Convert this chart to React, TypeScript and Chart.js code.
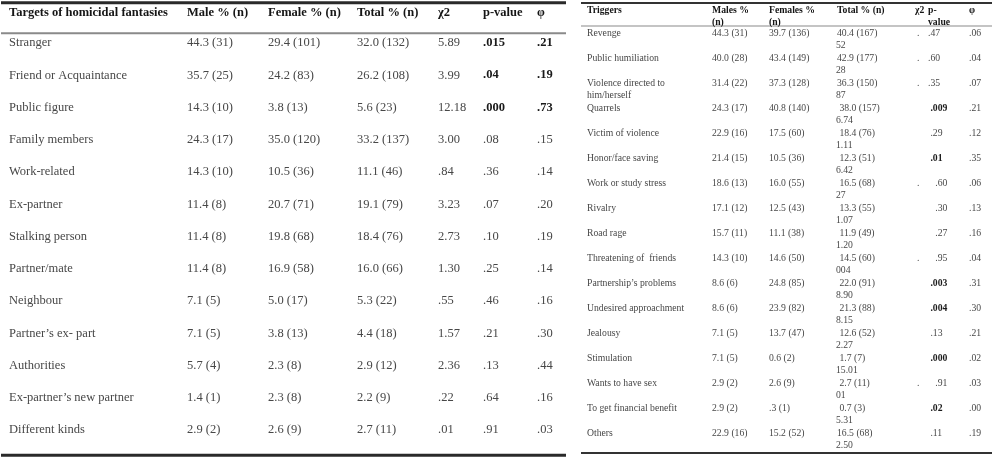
import React, { useEffect, useRef } from "react";
import { Chart, registerables } from "chart.js";

Chart.register(...registerables);

// ---------- Left table data ----------
const leftHeaders = ["Targets of homicidal fantasies", "Male % (n)", "Female % (n)", "Total % (n)", "χ2", "p-value", "φ"];
const targets = [
  "Stranger", "Friend or Acquaintance", "Public figure", "Family members", "Work-related", "Ex-partner",
  "Stalking person", "Partner/mate", "Neighbour", "Partner\u2019s ex- part", "Authorities",
  "Ex-partner\u2019s new partner", "Different kinds",
];
const leftMale = ["44.3 (31)", "35.7 (25)", "14.3 (10)", "24.3 (17)", "14.3 (10)", "11.4 (8)", "11.4 (8)", "11.4 (8)", "7.1 (5)", "7.1 (5)", "5.7 (4)", "1.4 (1)", "2.9 (2)"];
const leftFemale = ["29.4 (101)", "24.2 (83)", "3.8 (13)", "35.0 (120)", "10.5 (36)", "20.7 (71)", "19.8 (68)", "16.9 (58)", "5.0 (17)", "3.8 (13)", "2.3 (8)", "2.3 (8)", "2.6 (9)"];
const leftTotal = ["32.0 (132)", "26.2 (108)", "5.6 (23)", "33.2 (137)", "11.1 (46)", "19.1 (79)", "18.4 (76)", "16.0 (66)", "5.3 (22)", "4.4 (18)", "2.9 (12)", "2.2 (9)", "2.7 (11)"];
const leftChi = ["5.89", "3.99", "12.18", "3.00", ".84", "3.23", "2.73", "1.30", ".55", "1.57", "2.36", ".22", ".01"];
const leftP = [".015", ".04", ".000", ".08", ".36", ".07", ".10", ".25", ".46", ".21", ".13", ".64", ".91"];
const leftPhi = [".21", ".19", ".73", ".15", ".14", ".20", ".19", ".14", ".16", ".30", ".44", ".16", ".03"];
const leftBold = [true, true, true, false, false, false, false, false, false, false, false, false, false];

// ---------- Right table data ----------
const rightHeaders1 = ["Triggers", "Males %", "Females %", "Total % (n)", "χ2", "p-", "φ"];
const rightHeaders2 = ["", "(n)", "(n)", "", "", "value", ""];
const triggers = [
  "Revenge", "Public humiliation", "Violence directed to\nhim/herself", "Quarrels", "Victim of violence",
  "Honor/face saving", "Work or study stress", "Rivalry", "Road rage", "Threatening of  friends",
  "Partnership\u2019s problems", "Undesired approachment", "Jealousy", "Stimulation", "Wants to have sex",
  "To get financial benefit", "Others",
];
const rightMales = ["44.3 (31)", "40.0 (28)", "31.4 (22)", "24.3 (17)", "22.9 (16)", "21.4 (15)", "18.6 (13)", "17.1 (12)", "15.7 (11)", "14.3 (10)", "8.6 (6)", "8.6 (6)", "7.1 (5)", "7.1 (5)", "2.9 (2)", "2.9 (2)", "22.9 (16)"];
const rightFemales = ["39.7 (136)", "43.4 (149)", "37.3 (128)", "40.8 (140)", "17.5 (60)", "10.5 (36)", "16.0 (55)", "12.5 (43)", "11.1 (38)", "14.6 (50)", "24.8 (85)", "23.9 (82)", "13.7 (47)", "0.6 (2)", "2.6 (9)", ".3 (1)", "15.2 (52)"];
const rightTotal = ["40.4 (167)", "42.9 (177)", "36.3 (150)", " 38.0 (157)", " 18.4 (76)", " 12.3 (51)", " 16.5 (68)", " 13.3 (55)", " 11.9 (49)", " 14.5 (60)", " 22.0 (91)", " 21.3 (88)", " 12.6 (52)", " 1.7 (7)", " 2.7 (11)", " 0.7 (3)", "16.5 (68)"];
const rightChiWrapped = ["52", "28", "87", "6.74", "1.11", "6.42", "27", "1.07", "1.20", "004", "8.90", "8.15", "2.27", "15.01", "01", "5.31", "2.50"];
const rightChiDot = [".", ".", ".", "", "", "", ".", "", "", ".", "", "", "", "", ".", "", ""];
const rightP = [".47", ".60", ".35", " .009", " .29", " .01", "   .60", "   .30", "   .27", "   .95", " .003", " .004", " .13", " .000", "   .91", " .02", " .11"];
const rightPhi = [".06", ".04", ".07", ".21", ".12", ".35", ".06", ".13", ".16", ".04", ".31", ".30", ".21", ".02", ".03", ".00", ".19"];
const rightBold = [false, false, false, true, false, true, false, false, false, false, true, true, false, true, false, true, false];

// ---------- Layout (positions in x-scale units) ----------
const leftCols = [9, 187, 268, 357, 438, 483, 537];
const rightCols = [587, 712, 769, 837, 915, 928, 969];
const LEFT_FONT = 12.5;
const RIGHT_FONT = 9.7;
const SERIF = '"Liberation Serif", "DejaVu Serif", serif';
const BODY = "#474747";
const HEAD = "#151515";

const tablePlugin = {
  id: "tableDraw",
  afterDatasetsDraw(chart: any) {
    const ctx = chart.ctx as CanvasRenderingContext2D;
    const x = chart.scales.x;
    const yL = chart.scales.yL;
    const yR = chart.scales.yR;
    ctx.save();
    ctx.textBaseline = "middle";
    ctx.textAlign = "left";

    const text = (s: string, px: number, py: number, size: number, bold: boolean, color: string) => {
      ctx.font = `${bold ? "bold " : ""}${size}px ${SERIF}`;
      ctx.fillStyle = color;
      ctx.fillText(s, px, py);
    };
    const hline = (x0: number, x1: number, py: number, w: number, color: string) => {
      ctx.beginPath();
      ctx.strokeStyle = color;
      ctx.lineWidth = w;
      ctx.moveTo(x.getPixelForValue(x0), py);
      ctx.lineTo(x.getPixelForValue(x1), py);
      ctx.stroke();
    };

    // Left table rules
    hline(1, 566, yL.getPixelForValue(-1.25), 3, "#2a2a2a");
    hline(1, 566, yL.getPixelForValue(-0.3), 2, "#8a8a8a");
    hline(1, 566, yL.getPixelForValue(12.78), 3, "#2a2a2a");

    // Left header
    leftHeaders.forEach((h, c) => {
      text(h, x.getPixelForValue(leftCols[c]), yL.getPixelForValue(-0.93), LEFT_FONT, true, HEAD);
    });
    // Left body
    targets.forEach((t, i) => {
      const py = yL.getPixelForValue(i);
      const cells = [t, leftMale[i], leftFemale[i], leftTotal[i], leftChi[i], leftP[i], leftPhi[i]];
      cells.forEach((s, c) => {
        const bold = c >= 5 && leftBold[i];
        text(s, x.getPixelForValue(leftCols[c]), py, LEFT_FONT, bold, bold ? "#1a1a1a" : BODY);
      });
    });

    // Right table rules
    hline(581, 992, yR.getPixelForValue(-1.2), 2, "#333333");
    hline(581, 992, yR.getPixelForValue(-0.28), 1.2, "#8a8a8a");
    hline(581, 992, yR.getPixelForValue(16.8), 2, "#333333");

    // Right header
    rightHeaders1.forEach((h, c) => {
      text(h, x.getPixelForValue(rightCols[c]), yR.getPixelForValue(-0.92), RIGHT_FONT, true, HEAD);
      if (rightHeaders2[c]) {
        text(rightHeaders2[c], x.getPixelForValue(rightCols[c]), yR.getPixelForValue(-0.44), RIGHT_FONT, true, HEAD);
      }
    });
    // Right body
    triggers.forEach((t, i) => {
      const py = yR.getPixelForValue(i);
      const py2 = yR.getPixelForValue(i + 0.48);
      const lines = t.split("\n");
      text(lines[0], x.getPixelForValue(rightCols[0]), py, RIGHT_FONT, false, BODY);
      if (lines[1]) text(lines[1], x.getPixelForValue(rightCols[0]), py2, RIGHT_FONT, false, BODY);
      text(rightMales[i], x.getPixelForValue(rightCols[1]), py, RIGHT_FONT, false, BODY);
      text(rightFemales[i], x.getPixelForValue(rightCols[2]), py, RIGHT_FONT, false, BODY);
      text(rightTotal[i], x.getPixelForValue(rightCols[3]), py, RIGHT_FONT, false, BODY);
      text(rightChiWrapped[i], x.getPixelForValue(rightCols[3] - 1), py2, RIGHT_FONT, false, BODY);
      if (rightChiDot[i]) text(rightChiDot[i], x.getPixelForValue(rightCols[4] + 2), py, RIGHT_FONT, false, BODY);
      text(rightP[i], x.getPixelForValue(rightCols[5]), py, RIGHT_FONT, rightBold[i], rightBold[i] ? "#1a1a1a" : BODY);
      text(rightPhi[i], x.getPixelForValue(rightCols[6]), py, RIGHT_FONT, false, BODY);
    });

    ctx.restore();
  },
};

export default function App() {
  const ref = useRef<HTMLCanvasElement>(null);
  useEffect(() => {
    if (!ref.current) return;
    const chart = new Chart(ref.current, {
      type: "scatter",
      data: {
        datasets: [
          {
            label: "targets",
            data: targets.map((_, i) => ({ x: leftCols[0], y: i })),
            xAxisID: "x",
            yAxisID: "yL",
            pointRadius: 0,
            showLine: false,
          },
          {
            label: "triggers",
            data: triggers.map((_, i) => ({ x: rightCols[0], y: i })),
            xAxisID: "x",
            yAxisID: "yR",
            pointRadius: 0,
            showLine: false,
          },
        ],
      },
      options: {
        responsive: false,
        animation: false,
        events: [],
        layout: { padding: 0 },
        plugins: { legend: { display: false }, tooltip: { enabled: false }, title: { display: false } },
        scales: {
          x: { type: "linear", min: 0, max: 1000, display: false },
          yL: { type: "linear", axis: "y", position: "left", reverse: true, min: -43 / 32.25, max: (459 - 43) / 32.25, display: false },
          yR: { type: "linear", axis: "y", position: "right", reverse: true, min: -33 / 25, max: (459 - 33) / 25, display: false },
        },
      } as any,
      plugins: [tablePlugin],
    });
    return () => chart.destroy();
  }, []);
  return (
    <div style={{ position: "absolute", left: 0, top: 0, width: 1000, height: 459, background: "#fff" }}>
      <canvas ref={ref} width={1000} height={459} style={{ display: "block" }} />
    </div>
  );
}
